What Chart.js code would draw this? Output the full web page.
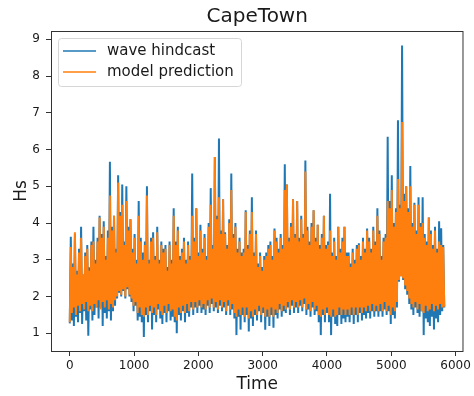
<!DOCTYPE html>
<html>
<head>
<meta charset="utf-8">
<script src="https://cdn.jsdelivr.net/npm/chart.js@4.4.1/dist/chart.umd.min.js"></script>
<style>
  html, body { margin: 0; padding: 0; background: #fff; }
  #chart { display: block; }
</style>
</head>
<body>
<canvas id="chart" width="474" height="396"></canvas>
<script>
// Chart text
const chartTitle = "CapeTown";
const seriesNames = ["wave hindcast", "model prediction"];
const xTitle = "Time";
const yTitle = "Hs";

// Tick labels
const xTicks = [0, 1000, 2000, 3000, 4000, 5000, 6000];
const yTicks = [1, 2, 3, 4, 5, 6, 7, 8, 9];

// Values, one every 16 time steps
const timeStep = 16;

const hindcast = [
  1.27, 3.63, 1.35, 2.9, 1.2, 3.7, 1.45, 2.7, 1.3, 3.3,
  1.55, 3.9, 1.25, 2.6, 1.6, 3.2, 1.35, 3.4, 0.93, 2.8,
  1.65, 3.5, 1.35, 3.9, 1.5, 3.0, 1.7, 3.6, 1.4, 4.2,
  1.7, 3.7, 1.2, 4.05, 1.55, 3.1, 1.4, 3.8, 1.6, 5.67,
  1.35, 3.9, 1.6, 4.2, 1.75, 3.3, 1.95, 5.3, 2.1, 4.3,
  2.0, 5.05, 2.15, 3.5, 1.95, 5.0, 2.2, 3.9, 2.0, 4.1,
  1.85, 3.3, 1.6, 3.7, 1.75, 3.0, 1.35, 4.6, 1.45, 3.6,
  1.3, 3.2, 0.9, 3.5, 1.5, 5.0, 1.3, 3.0, 1.6, 3.6,
  1.1, 3.75, 1.5, 3.1, 1.3, 3.9, 1.65, 3.0, 1.4, 3.5,
  1.25, 3.3, 1.55, 3.4, 1.3, 2.8, 1.6, 3.5, 1.35, 3.0,
  1.45, 4.4, 1.3, 3.5, 1.0, 3.9, 1.5, 3.1, 1.35, 3.3,
  1.6, 3.6, 1.3, 3.0, 1.55, 3.5, 1.45, 3.1, 1.7, 5.35,
  1.5, 3.6, 1.7, 4.4, 1.55, 3.2, 1.75, 3.95, 1.55, 3.3,
  1.65, 3.7, 1.5, 3.1, 1.75, 4.0, 1.55, 4.95, 1.8, 3.4,
  1.6, 5.8, 1.7, 4.2, 1.55, 6.3, 1.75, 3.8, 1.6, 4.65,
  1.7, 3.75, 1.5, 3.4, 1.75, 4.1, 1.5, 5.35, 1.65, 3.7,
  1.4, 4.0, 0.95, 3.3, 1.45, 3.6, 1.1, 3.2, 1.5, 3.3,
  1.3, 4.35, 1.5, 3.4, 1.05, 3.8, 1.4, 4.7, 1.2, 3.2,
  1.5, 3.8, 1.35, 2.9, 1.6, 3.2, 1.3, 2.8, 1.55, 3.1,
  1.1, 3.2, 1.45, 3.4, 1.2, 3.5, 1.5, 3.1, 1.15, 3.85,
  1.5, 3.6, 1.4, 3.3, 1.65, 3.7, 1.45, 3.4, 1.6, 5.6,
  1.55, 5.05, 1.7, 3.6, 1.5, 4.0, 1.75, 4.65, 1.55, 3.7,
  1.7, 4.6, 1.55, 3.6, 1.75, 4.2, 1.6, 3.7, 1.8, 5.7,
  1.5, 3.9, 1.65, 3.5, 1.45, 4.0, 1.7, 4.35, 1.5, 3.6,
  1.6, 3.95, 1.3, 3.4, 0.95, 3.7, 1.5, 4.2, 1.3, 3.4,
  1.55, 3.5, 1.3, 4.8, 0.95, 3.2, 1.45, 3.6, 1.25, 3.1,
  1.2, 3.9, 1.5, 3.3, 1.25, 3.6, 1.4, 3.9, 1.3, 3.2,
  1.45, 3.2, 1.3, 2.9, 1.5, 3.3, 1.25, 3.0, 1.5, 3.4,
  1.3, 3.45, 1.55, 3.1, 1.35, 3.6, 1.5, 3.3, 1.4, 3.85,
  1.55, 3.6, 1.4, 3.3, 1.6, 3.9, 1.45, 3.5, 1.6, 4.4,
  1.45, 3.8, 1.6, 3.1, 1.45, 3.6, 1.65, 3.7, 1.5, 6.35,
  1.6, 4.6, 1.25, 5.3, 1.5, 4.0, 1.4, 4.4, 1.7, 6.8,
  2.4, 4.5, 2.55, 8.83, 2.45, 4.8, 2.2, 5.0, 2.05, 4.4,
  1.8, 5.55, 1.65, 4.0, 1.5, 4.55, 1.7, 3.8, 1.55, 4.7,
  1.45, 4.0, 1.6, 4.7, 0.95, 3.7, 1.4, 3.5, 1.3, 4.15,
  1.2, 3.8, 1.45, 3.4, 1.1, 3.9, 1.4, 3.3, 1.3, 4.05,
  1.5, 3.86, 1.6, 3.4, 1.7
];

const prediction = [
  1.3, 3.35, 1.55, 2.8, 1.7, 3.75, 1.5, 2.6, 1.75, 3.2,
  1.6, 3.6, 1.8, 2.6, 1.65, 3.1, 1.85, 3.3, 1.6, 2.7,
  1.75, 3.4, 1.6, 3.5, 1.8, 2.9, 1.7, 3.5, 1.9, 4.15,
  1.65, 3.6, 1.85, 3.9, 1.7, 3.0, 1.9, 3.6, 1.65, 4.75,
  1.8, 3.8, 1.7, 4.2, 1.9, 3.2, 2.0, 5.1, 2.15, 4.2,
  2.05, 4.5, 2.2, 3.4, 2.0, 4.6, 2.25, 3.8, 2.05, 4.1,
  1.95, 3.2, 1.75, 3.6, 1.85, 2.9, 1.55, 4.2, 1.7, 3.5,
  1.5, 3.0, 1.45, 3.4, 1.7, 4.75, 1.5, 2.9, 1.75, 3.5,
  1.55, 3.6, 1.7, 3.0, 1.5, 3.75, 1.8, 2.9, 1.6, 3.4,
  1.5, 3.2, 1.75, 3.3, 1.55, 2.7, 1.8, 3.4, 1.6, 2.9,
  1.65, 4.2, 1.45, 3.4, 1.35, 3.8, 1.7, 3.0, 1.55, 3.2,
  1.75, 3.5, 1.55, 2.9, 1.8, 3.4, 1.6, 3.0, 1.85, 4.2,
  1.65, 3.5, 1.85, 4.4, 1.7, 3.1, 1.9, 3.8, 1.7, 3.2,
  1.8, 3.6, 1.65, 3.0, 1.9, 3.9, 1.7, 4.5, 1.95, 3.3,
  1.7, 5.8, 1.85, 4.1, 1.65, 4.7, 1.9, 3.7, 1.7, 4.65,
  1.85, 3.7, 1.6, 3.3, 1.9, 4.0, 1.65, 4.9, 1.8, 3.6,
  1.55, 3.9, 1.45, 3.2, 1.65, 3.5, 1.5, 3.1, 1.7, 3.2,
  1.45, 4.3, 1.7, 3.3, 1.4, 3.7, 1.6, 4.3, 1.45, 3.1,
  1.65, 3.7, 1.5, 2.8, 1.75, 3.1, 1.5, 2.7, 1.7, 3.0,
  1.45, 3.1, 1.65, 3.3, 1.45, 3.4, 1.7, 3.0, 1.45, 3.8,
  1.65, 3.5, 1.55, 3.2, 1.8, 3.6, 1.6, 3.3, 1.75, 4.9,
  1.65, 5.05, 1.85, 3.5, 1.65, 3.9, 1.9, 4.65, 1.7, 3.6,
  1.85, 4.6, 1.7, 3.5, 1.9, 4.1, 1.7, 3.6, 1.95, 5.4,
  1.65, 3.8, 1.8, 3.4, 1.6, 3.9, 1.85, 4.35, 1.65, 3.5,
  1.75, 3.95, 1.5, 3.3, 1.45, 3.6, 1.65, 4.2, 1.5, 3.3,
  1.7, 3.4, 1.5, 3.8, 1.45, 3.1, 1.65, 3.5, 1.45, 3.0,
  1.5, 3.9, 1.7, 3.2, 1.5, 3.5, 1.65, 3.9, 1.5, 3.1,
  1.65, 3.1, 1.5, 2.8, 1.7, 3.2, 1.5, 2.9, 1.7, 3.3,
  1.5, 3.4, 1.7, 3.0, 1.55, 3.5, 1.7, 3.2, 1.6, 3.8,
  1.75, 3.5, 1.6, 3.2, 1.8, 3.8, 1.6, 3.4, 1.75, 4.2,
  1.6, 3.7, 1.8, 3.0, 1.6, 3.5, 1.85, 3.6, 1.6, 4.6,
  1.75, 4.4, 1.5, 4.9, 1.7, 3.9, 1.6, 4.3, 1.85, 5.2,
  2.45, 4.4, 2.55, 6.75, 2.5, 4.6, 2.3, 5.0, 2.15, 4.3,
  1.95, 5.0, 1.8, 3.9, 1.7, 4.5, 1.85, 3.7, 1.65, 4.5,
  1.8, 3.9, 1.6, 4.0, 1.55, 3.6, 1.75, 3.4, 1.6, 4.15,
  1.65, 3.7, 1.8, 3.3, 1.6, 3.8, 1.75, 3.2, 1.65, 3.5,
  1.8, 3.4, 1.7, 3.35, 1.72
];

const colors = ["#1f77b4", "#ff7f0e"];
const font = '"DejaVu Sans", sans-serif';
const ink = "#1a1a1a";

function toPoints(values) {
  return values.map((v, i) => ({ x: i * timeStep, y: v }));
}

// matplotlib-like frame, title and legend box
const decor = {
  id: "decor",
  afterDraw(chart) {
    const { ctx, chartArea: a } = chart;
    ctx.save();

    ctx.strokeStyle = "#333";
    ctx.lineWidth = 1;
    ctx.strokeRect(a.left + 0.5, a.top + 0.5, a.right - a.left - 1, a.bottom - a.top);

    ctx.fillStyle = ink;
    ctx.font = "20px " + font;
    ctx.textAlign = "center";
    ctx.textBaseline = "middle";
    ctx.fillText(chartTitle, (a.left + a.right) / 2, 17);

    // legend
    const bx = a.left + 7, by = a.top + 7, bw = 183, bh = 48;
    ctx.beginPath();
    ctx.roundRect(bx + 0.5, by + 0.5, bw, bh, 3);
    ctx.fillStyle = "rgba(255,255,255,0.8)";
    ctx.fill();
    ctx.strokeStyle = "#d6d6d6";
    ctx.stroke();

    ctx.font = "15px " + font;
    ctx.textAlign = "left";
    chart.data.datasets.forEach((ds, i) => {
      const y = by + 13 + i * 21;
      ctx.beginPath();
      ctx.moveTo(bx + 5, y);
      ctx.lineTo(bx + 38, y);
      ctx.strokeStyle = ds.borderColor;
      ctx.lineWidth = 1.5;
      ctx.stroke();
      ctx.fillStyle = ink;
      ctx.fillText(ds.label, bx + 49, y);
    });

    ctx.restore();
  }
};

new Chart(document.getElementById("chart"), {
  type: "line",
  data: {
    datasets: [
      { label: seriesNames[0], data: toPoints(hindcast), borderColor: colors[0], borderWidth: 2, order: 2 },
      { label: seriesNames[1], data: toPoints(prediction), borderColor: colors[1], borderWidth: 2, order: 1 }
    ]
  },
  options: {
    responsive: false,
    animation: false,
    parsing: false,
    normalized: true,
    layout: { padding: { top: 31, right: 8, left: 0, bottom: 0 } },
    elements: {
      point: { radius: 0 },
      line: { tension: 0, borderJoinStyle: "miter" }
    },
    plugins: {
      legend: { display: false },
      title: { display: false },
      tooltip: { enabled: false }
    },
    scales: {
      x: {
        type: "linear",
        min: -292,
        max: 6123,
        afterFit: (s) => { s.height = 45; },
        afterBuildTicks: (s) => { s.ticks = xTicks.map(v => ({ value: v })); },
        grid: { drawOnChartArea: false, drawTicks: true, tickLength: 5, color: "#333" },
        border: { display: false },
        ticks: { font: { family: font, size: 12 }, color: ink, padding: 3, maxRotation: 0, callback: (v) => String(v) },
        title: { display: true, text: xTitle, font: { family: font, size: 17 }, color: ink, padding: { top: 0, bottom: 1 } }
      },
      y: {
        type: "linear",
        min: 0.518,
        max: 9.226,
        afterFit: (s) => { s.width = 51; },
        afterBuildTicks: (s) => { s.ticks = yTicks.map(v => ({ value: v })); },
        grid: { drawOnChartArea: false, drawTicks: true, tickLength: 5, color: "#333" },
        border: { display: false },
        ticks: { font: { family: font, size: 12 }, color: ink, padding: 6, callback: (v) => String(v) },
        title: { display: true, text: yTitle, font: { family: font, size: 17 }, color: ink, padding: { top: 11, bottom: 0 } }
      }
    }
  },
  plugins: [decor]
});
</script>
</body>
</html>
